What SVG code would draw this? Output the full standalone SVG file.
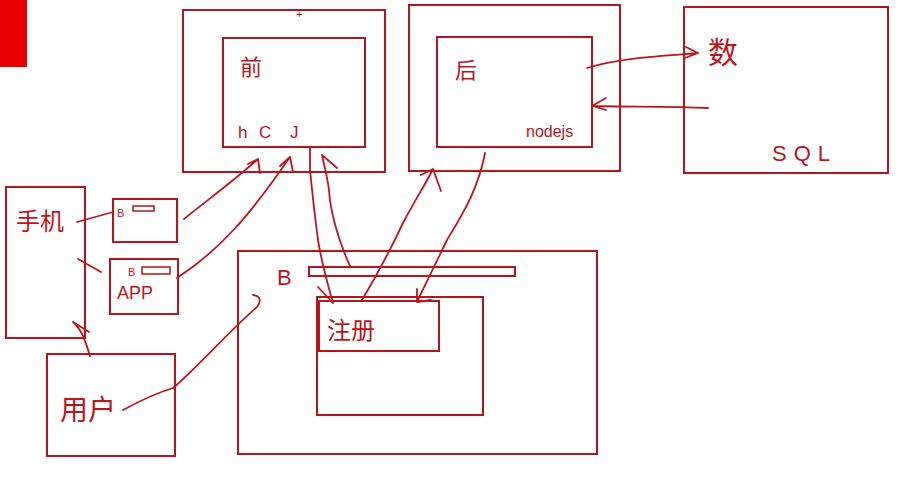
<svg xmlns="http://www.w3.org/2000/svg" width="905" height="486" viewBox="0 0 905 486">
<style>
.b{fill:none;stroke:#b5161c;stroke-width:2}
.c{fill:none;stroke:#c0141a;stroke-width:1.8;stroke-linecap:round;stroke-linejoin:round}
.t{fill:#c0141a;font-family:"Liberation Sans","Noto Sans CJK SC",sans-serif}
</style>
<rect x="0" y="0" width="27" height="67" fill="#e60000"/>
<text class="t" x="296" y="18" font-size="11">+</text>
<g id="front">
<rect class="b" x="183" y="10" width="202" height="162"/>
<rect class="b" x="223" y="38" width="142" height="109"/>
<text class="t" x="240" y="75" font-size="22">前</text>
<text class="t" x="238" y="138" font-size="17"><tspan x="238">h</tspan><tspan x="259">C</tspan><tspan x="290">J</tspan></text>
</g>
<g id="back">
<rect class="b" x="409" y="5" width="211" height="166"/>
<rect class="b" x="437" y="37" width="155" height="110"/>
<text class="t" x="455" y="78" font-size="22">后</text>
<text class="t" x="526" y="137" font-size="16">nodejs</text>
</g>
<g id="sql">
<rect class="b" x="684" y="7" width="204" height="166"/>
<text class="t" x="708" y="63" font-size="30">数</text>
<text class="t" x="772" y="161" font-size="22" letter-spacing="7">SQL</text>
</g>
<g id="phone">
<rect class="b" x="6" y="187" width="79" height="151"/>
<text class="t" x="16" y="230" font-size="24">手机</text>
</g>
<g id="b1">
<rect class="b" x="113" y="199" width="64" height="43"/>
<text class="t" x="117" y="217" font-size="11">B</text>
<rect class="b" x="133" y="206" width="21" height="5" style="stroke-width:1.5"/>
</g>
<g id="app">
<rect class="b" x="110" y="259" width="68" height="55"/>
<text class="t" x="128" y="276" font-size="11">B</text>
<rect class="b" x="142" y="267" width="28" height="7" style="stroke-width:1.5"/>
<text class="t" x="117" y="299" font-size="18">APP</text>
</g>
<g id="user">
<rect class="b" x="47" y="354" width="128" height="102"/>
<text class="t" x="60" y="420" font-size="28">用户</text>
</g>
<g id="browser">
<rect class="b" x="238" y="251" width="359" height="203"/>
<text class="t" x="277" y="285" font-size="22">B</text>
<rect class="b" x="309" y="267" width="206" height="9"/>
<rect class="b" x="317" y="297" width="166" height="118"/>
<rect class="b" x="319" y="301" width="120" height="50"/>
<text class="t" x="327" y="339" font-size="24">注册</text>
</g>
<g id="connectors">
<path class="c" d="M587,68 C620,58 660,56 698,53 M686,47 L698,53 L685,58"/>
<path class="c" d="M708,108 C670,106 630,107 592,106 M606,98 L592,106 L606,110"/>
<path class="c" d="M77,222 L113,212"/>
<path class="c" d="M78,259 L101,272"/>
<path class="c" d="M90,356 C85,340 82,330 73,322 M73,322 L89,332"/>
<path class="c" d="M123,410 C145,398 160,392 173,388 C200,365 225,335 257,307 C262,300 260,296 253,295"/>
<path class="c" d="M184,219 C210,198 235,180 258,159 M248,164 L258,159 L260,173"/>
<path class="c" d="M177,278 C220,250 250,215 290,157 M280,166 L290,157 L293,172"/>
<path class="c" d="M310,147 L310,170 C313,200 316,225 318,240 C322,265 328,285 333,303 M318,287 L333,303"/>
<path class="c" d="M350,266 C338,240 330,210 329,190 C327,175 324,165 322,155 M322,155 L337,168"/>
<path class="c" d="M362,300 C380,270 395,240 403,223 C415,200 425,185 433,169 M421,175 L433,169 L441,191"/>
<path class="c" d="M485,153 C478,190 462,215 447,240 C435,265 425,285 417,302 M417,289 L417,302 L431,300"/>
</g>
</svg>
